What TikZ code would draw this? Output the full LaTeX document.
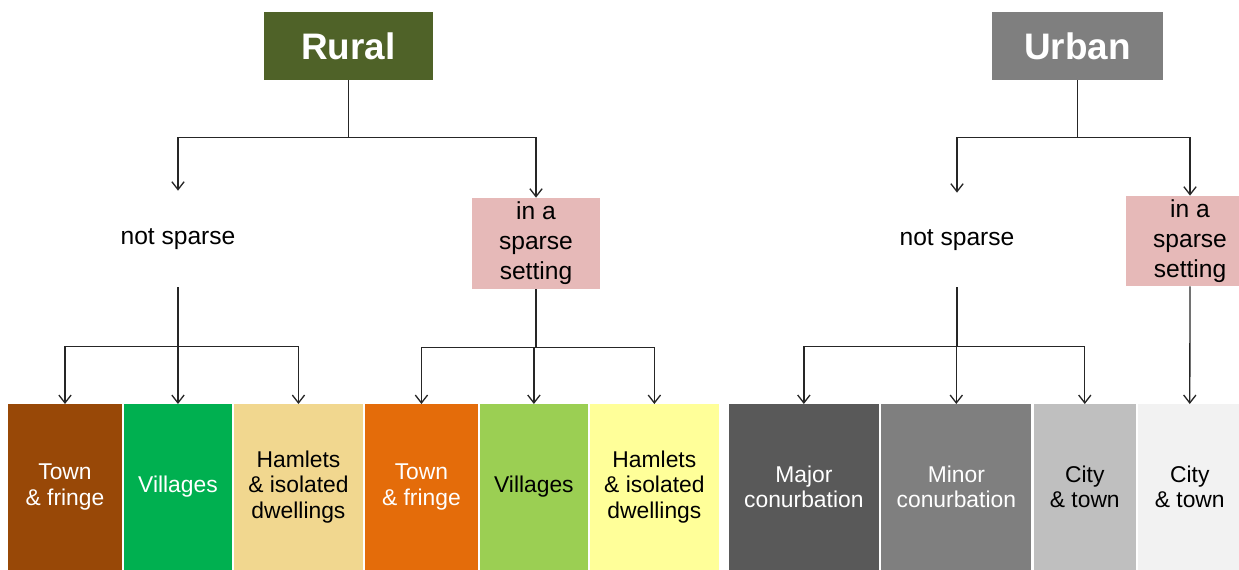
\documentclass[tikz,border=0pt]{standalone}
\usepackage{fontspec}
\setmainfont{Liberation Sans}
\usetikzlibrary{positioning,arrows.meta}
\definecolor{ruralgreen}{HTML}{4F6228}
\definecolor{urbangrey}{HTML}{7F7F7F}
\definecolor{sparsepink}{HTML}{E6B9B8}
\definecolor{townbrown}{HTML}{984807}
\definecolor{villgreen}{HTML}{00B050}
\definecolor{hamtan}{HTML}{F1D78F}
\definecolor{townorange}{HTML}{E46C0A}
\definecolor{villlight}{HTML}{9BCF53}
\definecolor{hamyellow}{HTML}{FFFF99}
\definecolor{majorgrey}{HTML}{595959}
\definecolor{minorgrey}{HTML}{7F7F7F}
\definecolor{citygrey}{HTML}{BFBFBF}
\definecolor{citylight}{HTML}{F2F2F2}

\begin{document}
\begin{tikzpicture}[
        x=0.02cm, y=-0.02cm,
        node distance=0.04cm,
        head/.style={rectangle, minimum width=3.4cm, minimum height=1.36cm,
                     text=white, font=\fontsize{21}{24}\selectfont\bfseries},
        branch/.style={rectangle, minimum width=2.56cm, inner sep=0pt,
                       align=center, font=\fontsize{14}{17}\selectfont},
        cell/.style={rectangle, minimum height=3.32cm, inner sep=0pt, outer sep=0pt,
                     align=center, font=\fontsize{13}{14.5}\selectfont},
        arr/.style={-{Straight Barb[length=4.5pt,width=7pt]},
                    line width=0.75pt, color=black!85}
      ]
        \useasboundingbox (0,0) rectangle (1239,570);

        % rural side
        \node[head, fill=ruralgreen] (rural) at (348.5,46) {Rural};
        \node[branch, minimum height=1.92cm] (rns) at (178,239) {not sparse};
        \node[branch, fill=sparsepink, minimum height=1.82cm] (rsp) at (536,243.5)
              {in a\\sparse\\setting};

        \node[cell, fill=townbrown, text=white, minimum width=2.28cm,
              anchor=north west] (rtown) at (8,404) {Town\\\& fringe};
        \node[cell, fill=villgreen, text=white, minimum width=2.16cm,
              right=of rtown] (rvill) {Villages};
        \node[cell, fill=hamtan, minimum width=2.58cm, right=of rvill] (rham)
              {Hamlets\\\& isolated\\dwellings};
        \node[cell, fill=townorange, text=white, minimum width=2.26cm,
              right=of rham] (stown) {Town\\\& fringe};
        \node[cell, fill=villlight, minimum width=2.16cm, right=of stown] (svill)
              {Villages};
        \node[cell, fill=hamyellow, minimum width=2.58cm, right=of svill] (sham)
              {Hamlets\\\& isolated\\dwellings};

        \draw[arr] (rural.south) -- ++(0,57) -| (rns.north);
        \draw[arr] (rural.south) -- ++(0,57) -| (rsp.north);
        \draw[arr] (rns.south) -- ++(0,59) -| (rtown.north);
        \draw[arr] (rns.south) -- ++(0,59) -| (rvill.north);
        \draw[arr] (rns.south) -- ++(0,59) -| (rham.north);
        \draw[arr] (rsp.south) -- ++(0,58) -| (stown.north);
        \draw[arr] (rsp.south) -- ++(0,58) -| (svill.north);
        \draw[arr] (rsp.south) -- ++(0,58) -| (sham.north);

        % urban side
        \node[head, fill=urbangrey, minimum width=3.42cm] (urban) at (1077.5,46) {Urban};
        \node[branch, minimum height=1.88cm] (uns) at (957,240) {not sparse};
        \node[branch, fill=sparsepink, minimum height=1.8cm] (usp) at (1190,241)
              {in a\\sparse\\setting};

        \node[cell, fill=majorgrey, text=white, minimum width=3cm,
              right=0.2cm of sham] (umajor) {Major\\conurbation};
        \node[cell, fill=minorgrey, text=white, minimum width=3cm,
              right=0.05cm of umajor] (uminor) {Minor\\conurbation};
        \node[cell, fill=citygrey, minimum width=2.04cm, right=0.05cm of uminor]
              (ucity) {City\\\& town};
        \node[cell, fill=citylight, minimum width=2.06cm, right=0.05cm of ucity]
              (scity) {City\\\& town};

        \draw[arr] (urban.south) -- ++(0,57) -| (uns.north);
        \draw[arr] (urban.south) -- ++(0,57) -| (usp.north);
        \draw[arr] (uns.south) -- ++(0,59) -| (umajor.north);
        \draw[arr] (uns.south) -- ++(0,59) -| (uminor.north);
        \draw[arr] (uns.south) -- ++(0,59) -| (ucity.north);
        \draw[arr] (usp.south) -- (scity.north);
      \end{tikzpicture}
\end{document}
